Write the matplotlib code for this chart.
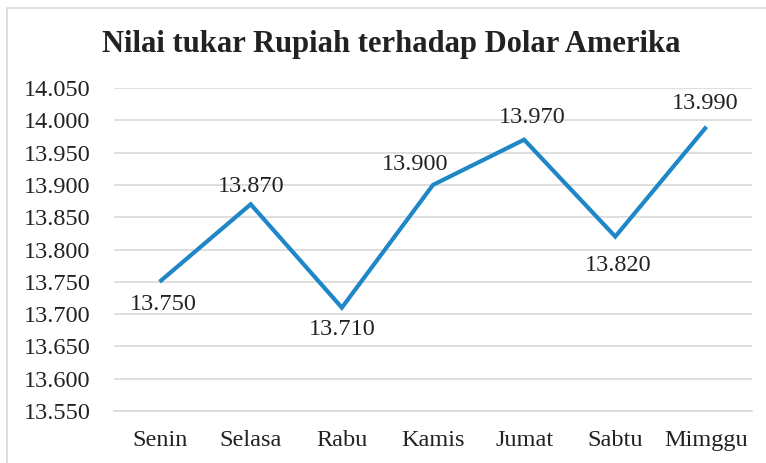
import matplotlib.pyplot as plt
from matplotlib.patches import Rectangle
from matplotlib.ticker import FuncFormatter, MultipleLocator

days = ['Senin', 'Selasa', 'Rabu', 'Kamis', 'Jumat', 'Sabtu', 'Mimggu']
rates = [13750, 13870, 13710, 13900, 13970, 13820, 13990]

# where each value label sits relative to its point (pixels)
label_offsets = [(4, -23), (0, 18), (0, -22), (-18, 20), (8, 22), (3, -29), (-1, 23)]

plt.rcParams['font.family'] = ['Liberation Serif', 'DejaVu Serif']
text_color = '#222222'
grid_color = '#d9d9d9'
line_color = '#1f87c7'

fig = plt.figure(figsize=(7.66, 4.63), dpi=100)
fig.patches.append(Rectangle((7 / 766, -0.1), 1.2, 1 - 8 / 463 + 0.1,
                             transform=fig.transFigure, fill=False,
                             edgecolor=grid_color, linewidth=1.2))

ax = fig.add_axes([114 / 766, 1 - 411 / 463, (752 - 114) / 766, (411 - 88) / 463])
x = range(len(days))
ax.plot(x, rates, color=line_color, linewidth=3.0, solid_joinstyle='miter',
        solid_capstyle='butt')

fmt = lambda v: f'{v:,.0f}'.replace(',', '.')
for i, v in enumerate(rates):
    ax.annotate(fmt(v), (i, v), xytext=label_offsets[i], textcoords='offset pixels',
                ha='center', va='center', fontsize=17.5, color=text_color)

ax.set_xlim(-0.5, len(days) - 0.5)
ax.set_ylim(13550, 14050)
ax.yaxis.set_major_locator(MultipleLocator(50))
ax.yaxis.set_major_formatter(FuncFormatter(lambda v, pos: fmt(v)))
ax.set_xticks(list(x))
ax.set_xticklabels(days)
ax.tick_params(axis='both', length=0, labelsize=17.5, labelcolor=text_color)
ax.tick_params(axis='y', pad=17)
ax.tick_params(axis='x', pad=14)

ax.grid(axis='y', color=grid_color, linewidth=1.2)
ax.set_axisbelow(True)
for side in ['top', 'right', 'left']:
    ax.spines[side].set_visible(False)
ax.spines['bottom'].set_color(grid_color)
ax.spines['bottom'].set_linewidth(1.2)

fig.text(391 / 766, 1 - 52 / 463, 'Nilai tukar Rupiah terhadap Dolar Amerika',
         ha='center', va='baseline', fontsize=22, fontweight='bold', color=text_color)

fig.savefig('out.png', dpi=100, facecolor='white')
